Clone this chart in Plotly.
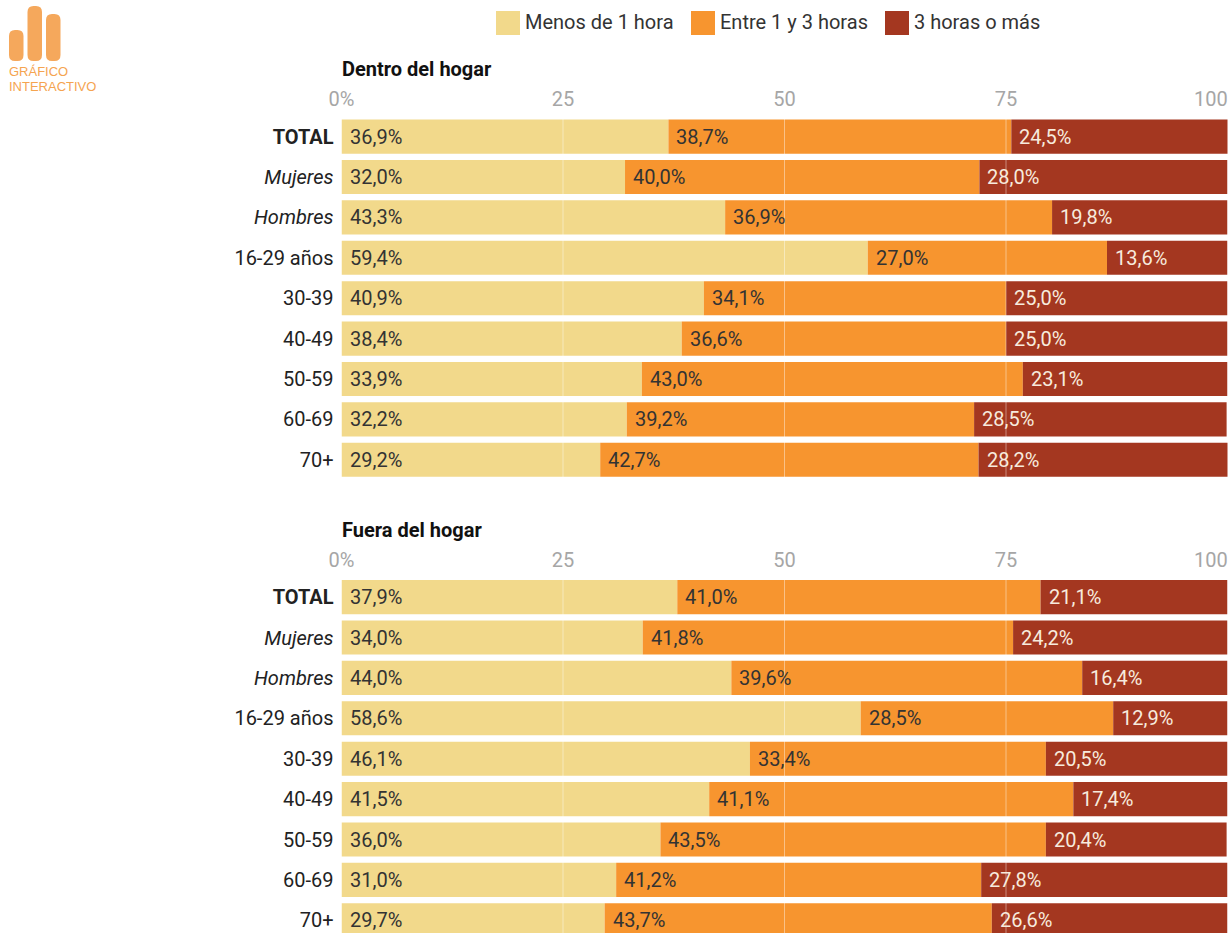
import plotly.graph_objects as go

W, H = 1232, 933
categories = ["<b>TOTAL</b>", "<i>Mujeres</i>", "<i>Hombres</i>", "16-29 años", "30-39", "40-49", "50-59", "60-69", "70+"]
series_names = ["Menos de 1 hora", "Entre 1 y 3 horas", "3 horas o más"]
colors = ["#F2D98B", "#F7952F", "#A43720"]
text_colors = ["#333333", "#333333", "#F7EBDD"]

dentro_menos = [36.9, 32.0, 43.3, 59.4, 40.9, 38.4, 33.9, 32.2, 29.2]
dentro_entre = [38.7, 40.0, 36.9, 27.0, 34.1, 36.6, 43.0, 39.2, 42.7]
dentro_mas = [24.5, 28.0, 19.8, 13.6, 25.0, 25.0, 23.1, 28.5, 28.2]
fuera_menos = [37.9, 34.0, 44.0, 58.6, 46.1, 41.5, 36.0, 31.0, 29.7]
fuera_entre = [41.0, 41.8, 39.6, 28.5, 33.4, 41.1, 43.5, 41.2, 43.7]
fuera_mas = [21.1, 24.2, 16.4, 12.9, 20.5, 17.4, 20.4, 27.8, 26.6]
tick_vals = [0, 25, 50, 75]
tick_text = ["0%", "25", "50", "75"]
panels = [
    ("Dentro del hogar", [dentro_menos, dentro_entre, dentro_mas]),
    ("Fuera del hogar", [fuera_menos, fuera_entre, fuera_mas]),
]

FONT = "Roboto"
X0, X1 = 341.5, 1227.5
STEP = 40.4
TOPS = [116.4, 576.9]


def px(x):
    return x / W


def py(y):
    return 1 - y / H


def rounded(x0, y0, x1, y1, r):
    a, b, c, d = px(x0), px(x1), py(y0), py(y1)
    rx, ry = r / W, r / H
    return (f"M{a},{d} L{a},{c - ry} Q{a},{c} {a + rx},{c} L{b - rx},{c} Q{b},{c} {b},{c - ry} "
            f"L{b},{d + ry} Q{b},{d} {b - rx},{d} L{a + rx},{d} Q{a},{d} {a},{d + ry} Z")


fig = go.Figure()
annotations, shapes = [], []

for p, (title, vals) in enumerate(panels):
    suffix = "" if p == 0 else "2"
    cumulative = [0.0] * len(categories)
    for s, v in enumerate(vals):
        fig.add_trace(go.Bar(
            y=categories, x=v, base=cumulative[:], orientation="h", name=series_names[s],
            marker=dict(color=colors[s], line_width=0), showlegend=False,
            xaxis=f"x{suffix}", yaxis=f"y{suffix}", hoverinfo="x+y+name",
        ))
        for i, c in enumerate(categories):
            annotations.append(dict(
                x=cumulative[i], y=c, xref=f"x{suffix}", yref=f"y{suffix}",
                text=f"{v[i]:.1f}%".replace(".", ","), showarrow=False, xanchor="left", yanchor="middle", xshift=6,
                font=dict(family=FONT, size=20, color=text_colors[s]),
            ))
        cumulative = [a + b for a, b in zip(cumulative, v)]

    top = TOPS[p]
    bottom = min(top + STEP * len(categories), H)
    last = -0.5 + (bottom - top) / STEP
    axis_x = dict(
        domain=[px(X0), px(X1)], range=[0, 100], side="top", tickmode="array", tickvals=tick_vals,
        ticktext=tick_text, showgrid=False, zeroline=False, showline=False, ticks="", ticklabelstandoff=5,
        tickfont=dict(family=FONT, size=20, color="#A6A6A6"), anchor=f"y{suffix}", fixedrange=True, automargin=False,
    )
    axis_y = dict(
        domain=[py(bottom), py(top)], range=[last, -0.5], type="category", categoryorder="array",
        categoryarray=categories, showgrid=False, zeroline=False, showline=False, ticks="",
        ticklabelstandoff=7, tickfont=dict(family=FONT, size=20, color="#222222"),
        anchor=f"x{suffix}", fixedrange=True, automargin=False,
    )
    fig.update_layout(**{f"xaxis{suffix}": axis_x, f"yaxis{suffix}": axis_y})

    for t in tick_vals[1:]:
        shapes.append(dict(type="line", xref=f"x{suffix}", yref=f"y{suffix} domain", x0=t, x1=t, y0=0, y1=1,
                           line=dict(color="rgba(255,255,255,0.42)", width=1), layer="above"))
    annotations.append(dict(x=100, xref=f"x{suffix}", y=py(top - 17), yref="paper", yanchor="middle", text="100",
                            showarrow=False, xanchor="right", xshift=2.5,
                            font=dict(family=FONT, size=20, color="#A6A6A6")))
    annotations.append(dict(x=px(342), xref="paper", y=py(top - 47), yref="paper", yanchor="middle",
                            text=f"<b>{title}</b>", showarrow=False, xanchor="left", xshift=-2,
                            font=dict(family=FONT, size=20, color="#111111")))

# Legend row
for name, color, x_box in zip(series_names, colors, [496, 691, 885]):
    shapes.append(dict(type="rect", xref="paper", yref="paper", x0=px(x_box), x1=px(x_box + 24),
                       y0=py(35), y1=py(11), fillcolor=color, line_width=0))
    annotations.append(dict(x=px(x_box + 27), xref="paper", y=py(22.5), yref="paper", yanchor="middle", text=name,
                            showarrow=False, xanchor="left", font=dict(family=FONT, size=20, color="#333333")))

# Logo
for x0, y0, x1 in [(9, 30, 23.5), (27.5, 6, 42), (46, 14, 60.5)]:
    shapes.append(dict(type="path", xref="paper", yref="paper", path=rounded(x0, y0, x1, 61, 6),
                       fillcolor="#F5A85C", line_width=0))
for text, y in [("GRÁFICO", 71), ("INTERACTIVO", 87)]:
    annotations.append(dict(x=px(9), xref="paper", y=py(y), yref="paper", yanchor="middle", text=text, showarrow=False,
                            xanchor="left", xshift=-2, font=dict(family="Liberation Sans", size=13, color="#F5A450")))

fig.update_layout(
    barmode="overlay", bargap=0.156, width=W, height=H, margin=dict(l=0, r=0, t=0, b=0),
    paper_bgcolor="white", plot_bgcolor="white", showlegend=False,
    annotations=annotations, shapes=shapes, font=dict(family=FONT),
)
fig.write_html("out.html", post_script="document.body.style.margin='0';", config={"displayModeBar": False})
